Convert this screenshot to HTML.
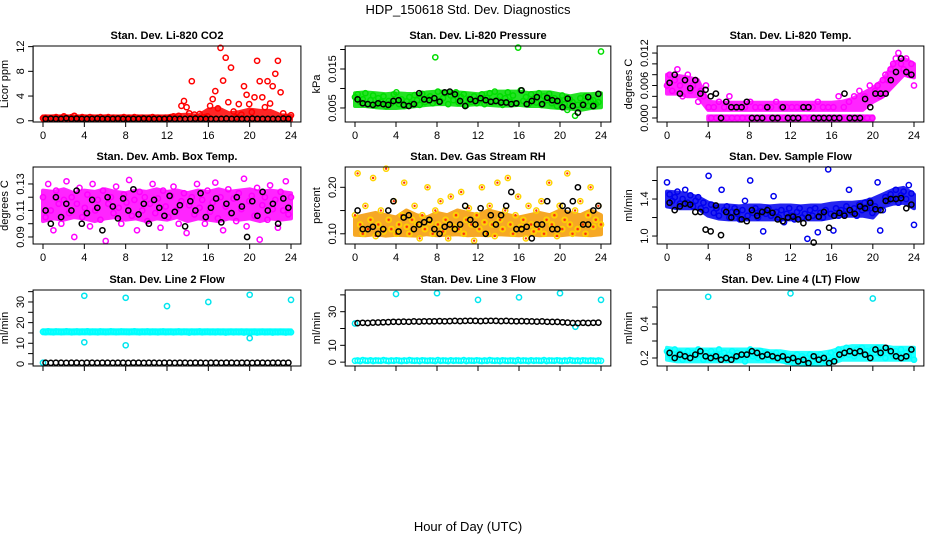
<!DOCTYPE html>
<html><head><meta charset="utf-8"><style>
html,body{margin:0;padding:0;background:#fff}
svg{display:block;font-family:"Liberation Sans",sans-serif}
</style></head><body>
<svg id="chart" width="936" height="540" viewBox="0 0 936 540" xmlns="http://www.w3.org/2000/svg">
<rect width="936" height="540" fill="#fff"/>
<text x="468" y="14" text-anchor="middle" font-size="13">HDP_150618  Std. Dev. Diagnostics</text>
<text x="468" y="531" text-anchor="middle" font-size="13">Hour of Day (UTC)</text>
</svg>
<script>
// ---- data ----
const xTicks = [0,4,8,12,16,20,24];
const co2Values = [0.4,0.5,0.3,0.4,0.5,0.6,0.4,0.5,0.7,0.5,0.4,0.6,0.8,0.5,0.4,0.6,0.5,0.4,0.6,0.5,0.4,0.5,0.6,0.4,0.5,0.6,0.4,0.5,0.3,0.4,0.5,0.6,0.4,0.5,0.4,0.6,0.5,0.4,0.5,0.3,0.4,0.5,0.6,0.4,0.5,0.4,0.3,0.5,0.4,0.6,0.7,0.5,0.8,2.4,3.2,2.2,1.2,6.4,1.0,0.6,1.1,0.5,0.6,0.7,2.4,3.5,4.8,2.0,11.8,6.5,10.2,3.0,8.6,1.5,0.6,2.7,1.0,5.6,4.2,2.7,1.4,3.8,9.7,6.4,3.8,2.2,6.4,2.8,5.6,7.6,9.7,4.6,1.2,0.6,0.5,0.9];
const co2BandLo = [0.1,0.1,0.1,0.1,0.1,0.1,0.1,0.1,0.1,0.1,0.1,0.1,0.1,0.1,0.1,0.1,0.1,0.1,0.1,0.1,0.1,0.1,0.1,0.1,0.1];
const co2BandHi = [0.7,0.7,0.7,0.7,0.7,0.7,0.7,0.7,0.7,0.7,0.7,0.7,0.7,0.9,1.0,0.8,1.8,2.0,1.2,1.4,1.8,1.6,1.6,0.9,0.8];
const co2Black = [0.3,0.35,0.3,0.3,0.4,0.3,0.35,0.3,0.3,0.3,0.35,0.3,0.3,0.3,0.35,0.3,0.3,0.3,0.3,0.35,0.3,0.3,0.3,0.3,0.35,0.3,0.3,0.3,0.3,0.35,0.3,0.3,0.3,0.3,0.3,0.35,0.3,0.3,0.3,0.3,0.35,0.3,0.3,0.3,0.3,0.3,0.35,0.3];
const pressValues = [0.0078,0.0085,0.0065,0.0072,0.0088,0.0060,0.0070,0.0082,0.0058,0.0075,0.0066,0.0080,0.0055,0.0068,0.0062,0.0085,0.0090,0.0060,0.0072,0.0055,0.0067,0.0078,0.0061,0.0083,0.0070,0.0058,0.0086,0.0065,0.0074,0.0080,0.0062,0.0180,0.0092,0.0068,0.0075,0.0088,0.0060,0.0082,0.0070,0.0090,0.0064,0.0078,0.0085,0.0057,0.0073,0.0066,0.0080,0.0062,0.0070,0.0085,0.0060,0.0076,0.0088,0.0065,0.0092,0.0070,0.0080,0.0058,0.0075,0.0090,0.0066,0.0082,0.0062,0.0205,0.0095,0.0068,0.0078,0.0060,0.0085,0.0072,0.0064,0.0088,0.0058,0.0080,0.0070,0.0086,0.0062,0.0075,0.0055,0.0068,0.0082,0.0060,0.0045,0.0072,0.0065,0.0030,0.0058,0.0075,0.0062,0.0080,0.0055,0.0068,0.0070,0.0060,0.0065,0.0195];
const pressBandLo = [0.0055,0.0055,0.0052,0.0050,0.0050,0.0052,0.0055,0.0058,0.0060,0.0060,0.0058,0.0058,0.0060,0.0058,0.0056,0.0056,0.0058,0.0055,0.0055,0.0052,0.0050,0.0048,0.0045,0.0050,0.0052];
const pressBandHi = [0.0088,0.0090,0.0088,0.0085,0.0088,0.0086,0.0085,0.0090,0.0092,0.0092,0.0090,0.0088,0.0085,0.0090,0.0092,0.0092,0.0092,0.0088,0.0090,0.0090,0.0085,0.0080,0.0085,0.0085,0.0088];
const pressBlack = [0.0072,0.0062,0.0060,0.0058,0.0062,0.0060,0.0058,0.0068,0.0070,0.0058,0.0055,0.0060,0.0088,0.0072,0.0070,0.0075,0.0066,0.0090,0.0092,0.0085,0.0068,0.0055,0.0072,0.0068,0.0075,0.0070,0.0066,0.0068,0.0064,0.0064,0.0060,0.0062,0.0095,0.0060,0.0068,0.0078,0.0060,0.0076,0.0070,0.0068,0.0052,0.0074,0.0055,0.0038,0.0058,0.0078,0.0055,0.0086];
const tempValues = [0.006,0.008,0.005,0.007,0.009,0.006,0.004,0.007,0.008,0.005,0.006,0.007,0.003,0.005,0.004,0.006,0.002,0,0.002,0,0.003,0,0.002,0,0.004,0,0.002,0,0.002,0,0.002,0,0.003,0,0.002,0,0.002,0,0.002,0,0.002,0,0.003,0,0.002,0,0.002,0,0.002,0,0.002,0,0.002,0,0.002,0,0.002,0,0.003,0,0.002,0,0.002,0,0.002,0,0.004,0,0.002,0,0.003,0,0.004,0,0.005,0,0.004,0,0.006,0,0.005,0.006,0.004,0.007,0.008,0.007,0.009,0.010,0.011,0.012,0.010,0.009,0.011,0.008,0.010,0.006];
const tempBandLo = [0.0045,0.0045,0.0040,0.0040,0.0015,0.0015,0.0015,0.0015,0.0015,0.0015,0.0015,0.0015,0.0015,0.0015,0.0015,0.0015,0.0015,0.0015,0.0015,0.0015,0.0030,0.0040,0.0060,0.0080,0.0075];
const tempBandHi = [0.0080,0.0078,0.0075,0.0070,0.0030,0.0028,0.0028,0.0028,0.0028,0.0028,0.0028,0.0028,0.0028,0.0028,0.0028,0.0028,0.0028,0.0030,0.0035,0.0045,0.0055,0.0070,0.0100,0.0110,0.0100];
const tempZeroHours = [4,20];
const tempZeroLo = [-0.0003,-0.0003];
const tempZeroHi = [0.0003,0.0003];
const tempBlack = [0.0065,0.008,0.0045,0.007,0.0055,0.007,0.0045,0.0052,0.004,0.0045,0,0.003,0.002,0.002,0.002,0.003,0,0,0,0.002,0,0,0.002,0,0,0,0.002,0.002,0,0,0,0,0,0,0.0045,0,0,0,0.0035,0.002,0.0045,0.0045,0.0045,0.007,0.0085,0.011,0.0085,0.008];
const ambValues = [0.12,0.105,0.13,0.11,0.095,0.125,0.115,0.10,0.118,0.132,0.108,0.12,0.09,0.115,0.127,0.105,0.112,0.122,0.098,0.13,0.11,0.118,0.103,0.125,0.087,0.115,0.12,0.108,0.128,0.112,0.1,0.122,0.116,0.133,0.106,0.118,0.095,0.124,0.11,0.12,0.102,0.115,0.13,0.108,0.119,0.097,0.125,0.113,0.105,0.121,0.128,0.11,0.1,0.117,0.123,0.093,0.114,0.12,0.107,0.13,0.112,0.118,0.1,0.125,0.109,0.116,0.131,0.104,0.12,0.095,0.113,0.126,0.108,0.119,0.102,0.123,0.111,0.134,0.098,0.117,0.121,0.106,0.127,0.088,0.114,0.12,0.103,0.129,0.111,0.118,0.097,0.124,0.11,0.132,0.107,0.12];
const ambBandLo = [0.102,0.104,0.103,0.105,0.104,0.102,0.104,0.105,0.103,0.104,0.102,0.104,0.103,0.105,0.102,0.104,0.103,0.102,0.104,0.103,0.104,0.102,0.104,0.103,0.104];
const ambBandHi = [0.125,0.124,0.126,0.123,0.125,0.124,0.126,0.124,0.123,0.125,0.124,0.126,0.124,0.125,0.123,0.125,0.124,0.126,0.124,0.125,0.126,0.124,0.125,0.124,0.123];
const ambBlack = [0.11,0.10,0.12,0.105,0.115,0.11,0.125,0.10,0.108,0.118,0.112,0.095,0.12,0.113,0.104,0.119,0.11,0.126,0.107,0.115,0.1,0.118,0.112,0.106,0.121,0.109,0.114,0.098,0.117,0.11,0.123,0.105,0.112,0.119,0.101,0.115,0.108,0.12,0.113,0.09,0.117,0.106,0.124,0.11,0.115,0.1,0.119,0.112];
const rhValues = [0.14,0.23,0.12,0.1,0.16,0.11,0.13,0.22,0.095,0.12,0.15,0.105,0.24,0.13,0.11,0.17,0.1,0.12,0.14,0.21,0.115,0.1,0.13,0.16,0.12,0.09,0.14,0.11,0.2,0.125,0.1,0.15,0.12,0.17,0.105,0.13,0.09,0.18,0.115,0.14,0.11,0.19,0.1,0.13,0.155,0.12,0.085,0.14,0.11,0.2,0.125,0.1,0.16,0.12,0.095,0.21,0.13,0.11,0.15,0.22,0.12,0.1,0.14,0.18,0.115,0.13,0.09,0.16,0.12,0.105,0.15,0.11,0.17,0.1,0.13,0.21,0.12,0.14,0.095,0.16,0.11,0.13,0.23,0.12,0.1,0.15,0.11,0.17,0.12,0.1,0.14,0.2,0.115,0.13,0.16,0.12];
const rhBandLo = [0.098,0.097,0.099,0.096,0.098,0.097,0.096,0.099,0.097,0.098,0.099,0.097,0.098,0.097,0.099,0.098,0.097,0.099,0.097,0.098,0.097,0.099,0.098,0.097,0.099];
const rhBandHi = [0.135,0.14,0.145,0.14,0.135,0.15,0.14,0.135,0.145,0.14,0.15,0.145,0.14,0.15,0.145,0.14,0.135,0.14,0.145,0.14,0.15,0.145,0.14,0.15,0.14];
const rhBlack = [0.15,0.11,0.11,0.115,0.10,0.11,0.15,0.17,0.105,0.135,0.14,0.11,0.12,0.125,0.13,0.11,0.10,0.115,0.12,0.11,0.12,0.16,0.13,0.12,0.155,0.10,0.14,0.12,0.14,0.16,0.19,0.11,0.11,0.115,0.09,0.12,0.12,0.17,0.11,0.11,0.16,0.15,0.17,0.2,0.12,0.12,0.15,0.16];
const flowValues = [1.58,1.45,1.38,1.42,1.48,1.35,1.4,1.5,1.36,1.44,1.32,1.38,1.42,1.3,1.36,1.28,1.65,1.34,1.25,1.3,1.22,1.5,1.28,1.32,1.2,1.26,1.3,1.24,1.18,1.28,1.38,1.22,1.6,1.25,1.3,1.2,1.27,1.05,1.24,1.3,1.22,1.43,1.26,1.2,1.28,1.15,1.24,1.3,1.22,1.18,1.26,1.3,1.2,1.24,0.97,1.28,1.22,1.3,1.04,1.25,1.2,1.28,1.72,1.24,1.06,1.3,1.22,1.28,1.24,1.32,1.5,1.26,1.3,1.22,1.34,1.28,1.36,1.3,1.38,1.25,1.32,1.58,1.06,1.28,1.42,1.38,1.45,1.4,1.5,1.36,1.44,1.48,1.4,1.55,1.46,1.12];
const flowBandLo = [1.32,1.30,1.30,1.30,1.22,1.19,1.18,1.18,1.18,1.18,1.18,1.18,1.18,1.18,1.18,1.18,1.20,1.22,1.22,1.22,1.20,1.32,1.35,1.36,1.30];
const flowBandHi = [1.48,1.47,1.45,1.42,1.36,1.33,1.33,1.32,1.33,1.33,1.32,1.33,1.33,1.32,1.33,1.33,1.35,1.36,1.36,1.37,1.40,1.45,1.50,1.52,1.45];
const flowBlack = [1.36,1.28,1.32,1.35,1.34,1.26,1.26,1.07,1.05,1.33,1.01,1.26,1.2,1.26,1.18,1.16,1.28,1.22,1.26,1.28,1.25,1.18,1.16,1.2,1.21,1.18,1.14,1.2,0.93,1.21,1.26,1.09,1.22,1.25,1.22,1.28,1.24,1.32,1.3,1.36,1.29,1.28,1.38,1.4,1.4,1.41,1.3,1.34];
const line2Values = [15.6,15.4,15.8,15.5,15.3,15.7,15.6,15.4,15.5,15.8,15.6,15.3,15.5,15.7,15.4,15.6,15.5,15.8,15.4,15.6,15.5,15.3,15.7,15.6,15.4,15.5,15.8,15.6,15.4,15.5,15.7,15.6,15.5,15.4,15.6,15.8,15.5,15.3,15.6,15.5,15.7,15.4,15.6,15.5,15.3,15.6,15.7,15.4,15.5,15.6,15.3,15.5,15.7,15.4,15.6,15.5,15.2,15.6,15.4,15.5,15.7,15.3,15.5,15.6,15.4,15.5,15.3,15.6,15.4,15.5,15.2,15.4,15.6,15.3,15.5,15.4,15.6,15.2,15.5,15.3,15.4,15.5,15.2,15.4,15.6,15.3,15.4,15.5,15.2,15.4,15.3,15.5,15.4,15.2,15.4,15.3];
const line2BandLo = [14.8,14.8,14.8,14.8,14.8,14.8,14.8,14.8,14.8,14.8,14.8,14.8,14.8,14.8,14.8,14.8,14.8,14.8,14.8,14.8,14.8,14.8,14.8,14.8,14.8];
const line2BandHi = [16.3,16.3,16.3,16.3,16.3,16.3,16.3,16.3,16.3,16.3,16.3,16.3,16.3,16.3,16.3,16.3,16.3,16.3,16.3,16.3,16.3,16.3,16.3,16.3,16.3];
const line2OutHours = [4,4,8,8,12,16,20,20,24,0];
const line2OutValues = [33,10.5,32,9,28,30,33.5,12.5,31,0.6];
const line2Black = [0.6,0.5,0.6,0.6,0.5,0.6,0.6,0.5,0.6,0.6,0.5,0.6,0.6,0.5,0.6,0.6,0.5,0.6,0.6,0.5,0.6,0.6,0.5,0.6,0.6,0.5,0.6,0.6,0.5,0.6,0.6,0.5,0.6,0.6,0.5,0.6,0.6,0.5,0.6,0.6,0.5,0.6,0.6,0.5,0.6,0.6,0.5,0.6];
const line3Values = [0.8,1.0,0.7,1.2,0.9,0.8,1.1,0.7,1.0,0.9,0.8,1.2,0.9,0.7,1.0,0.8,1.1,0.9,0.7,1.0,0.8,1.2,0.9,0.8,1.0,0.7,1.1,0.9,0.8,1.0,0.9,0.7,1.2,0.8,1.0,0.9,0.7,1.1,0.8,1.0,0.9,0.8,1.2,0.7,1.0,0.9,0.8,1.1,0.9,0.7,1.0,0.8,1.2,0.9,0.8,1.0,0.7,1.1,0.9,0.8,1.0,0.9,0.7,1.2,0.8,1.0,0.9,0.7,1.1,0.8,1.0,0.9,0.8,1.2,0.7,1.0,0.9,0.8,1.1,0.9,0.7,1.0,0.8,1.2,0.9,0.8,1.0,0.7,1.1,0.9,0.8,1.0,0.9,0.7,1.0,0.8];
const line3OutHours = [4,8,12,16,20,24,0,21.5];
const line3OutValues = [40.5,41,37,38.5,41,37,23,21];
const line3Black = [23.2,23.4,23.3,23.5,23.6,23.7,23.8,24.0,23.9,24.1,24.0,24.2,24.1,24.3,24.2,24.3,24.4,24.3,24.4,24.5,24.4,24.5,24.6,24.5,24.4,24.5,24.6,24.5,24.4,24.5,24.4,24.3,24.4,24.3,24.2,24.1,24.2,24.0,23.9,23.9,23.7,23.5,23.3,23.2,23.4,23.3,23.4,23.5];
const line4Values = [0.24,0.22,0.2,0.25,0.21,0.23,0.19,0.22,0.24,0.2,0.23,0.21,0.25,0.22,0.19,0.23,0.21,0.24,0.2,0.22,0.25,0.21,0.23,0.19,0.22,0.24,0.2,0.23,0.21,0.22,0.18,0.23,0.25,0.21,0.22,0.2,0.24,0.21,0.23,0.19,0.22,0.2,0.23,0.21,0.19,0.22,0.18,0.21,0.2,0.17,0.22,0.19,0.21,0.18,0.2,0.22,0.18,0.21,0.19,0.22,0.2,0.18,0.21,0.23,0.19,0.22,0.25,0.21,0.23,0.26,0.22,0.24,0.21,0.25,0.23,0.26,0.22,0.24,0.21,0.25,0.23,0.26,0.22,0.24,0.2,0.25,0.23,0.21,0.24,0.22,0.25,0.2,0.23,0.21,0.24,0.19];
const line4BandLo = [0.19,0.18,0.18,0.18,0.18,0.18,0.18,0.18,0.18,0.18,0.18,0.18,0.17,0.16,0.16,0.16,0.17,0.19,0.19,0.19,0.19,0.19,0.19,0.19,0.19];
const line4BandHi = [0.26,0.25,0.25,0.25,0.25,0.25,0.25,0.25,0.25,0.25,0.24,0.24,0.23,0.23,0.23,0.23,0.24,0.26,0.27,0.27,0.27,0.27,0.26,0.26,0.26];
const line4OutHours = [4,12,20];
const line4OutValues = [0.56,0.58,0.55];
const line4Black = [0.23,0.2,0.22,0.21,0.2,0.22,0.24,0.21,0.2,0.21,0.19,0.2,0.19,0.21,0.22,0.22,0.24,0.23,0.21,0.22,0.21,0.2,0.21,0.19,0.2,0.18,0.19,0.17,0.21,0.19,0.2,0.17,0.18,0.22,0.23,0.24,0.23,0.24,0.22,0.2,0.25,0.23,0.26,0.24,0.21,0.2,0.21,0.25];

// ---- layout ----
const NS = 'http://www.w3.org/2000/svg';
const svg = document.getElementById('chart');
function mk(tag, attrs, parent){ const e=document.createElementNS(NS,tag); for(const k in attrs) e.setAttribute(k,attrs[k]); (parent||svg).appendChild(e); return e; }

const cols = [[43,291],[355,601],[667,914]];
const rows = [[46,122],[167,244],[290,366]];

const panels = [
 {name:'co2',title:'Stan. Dev. Li-820 CO2',ylab:'Licor ppm',c:0,r:0,yd:[-0.2,12.1],ticks:[0,4,8,12],labels:[0,4,8,12],fmt:v=>String(v),
  bands:[{lo:co2BandLo,hi:co2BandHi,col:'#ff0000'}],
  series:[{v:co2Values,col:'#ff0000'},{v:co2Black,col:'#000',black:true}]},
 {name:'pressure',title:'Stan. Dev. Li-820 Pressure',ylab:'kPa',c:1,r:0,yd:[0.0014,0.0209],ticks:[0.005,0.010,0.015,0.020],labels:[0.005,0.015],fmt:v=>v.toFixed(3),
  bands:[{lo:pressBandLo,hi:pressBandHi,col:'#00dd00'}],
  series:[{v:pressValues,col:'#00dd00'},{v:pressBlack,col:'#000',black:true}]},
 {name:'temp',title:'Stan. Dev. Li-820 Temp.',ylab:'degrees C',c:2,r:0,yd:[-0.00074,0.0133],ticks:[0,0.002,0.004,0.006,0.008,0.010,0.012],labels:[0,0.006,0.012],fmt:v=>v.toFixed(3),
  bands:[{lo:tempBandLo,hi:tempBandHi,col:'#ff00ff'},{lo:tempZeroLo,hi:tempZeroHi,h:tempZeroHours,col:'#ff00ff'}],
  series:[{v:tempValues,col:'#ff00ff'},{v:tempBlack,col:'#000',black:true}]},
 {name:'amb-box',title:'Stan. Dev. Amb. Box Temp.',ylab:'degrees C',c:0,r:1,yd:[0.0847,0.1428],ticks:[0.09,0.10,0.11,0.12,0.13],labels:[0.09,0.11,0.13],fmt:v=>v.toFixed(2),
  bands:[{lo:ambBandLo,hi:ambBandHi,col:'#ff00ff'}],
  series:[{v:ambValues,col:'#ff00ff'},{v:ambBlack,col:'#000',black:true}]},
 {name:'rh',title:'Stan. Dev. Gas Stream RH',ylab:'percent',c:1,r:1,yd:[0.078,0.2437],ticks:[0.10,0.15,0.20],labels:[0.10,0.20],fmt:v=>v.toFixed(2),
  bands:[{lo:rhBandLo,hi:rhBandHi,col:'#f59a00'}],
  series:[{v:rhValues,col:'#ffd400',dot:'#ff3300'},{v:rhBlack,col:'#000',black:true}]},
 {name:'sample-flow',title:'Stan. Dev. Sample Flow',ylab:'ml/min',c:2,r:1,yd:[0.914,1.746],ticks:[1.0,1.2,1.4,1.6],labels:[1.0,1.4],fmt:v=>v.toFixed(1),
  bands:[{lo:flowBandLo,hi:flowBandHi,col:'#0000ee'}],
  series:[{v:flowValues,col:'#0000ee'},{v:flowBlack,col:'#000',black:true}]},
 {name:'line2',title:'Stan. Dev. Line 2 Flow',ylab:'ml/min',c:0,r:2,yd:[-1,35.8],ticks:[0,5,10,15,20,25,30,35],labels:[0,10,20,30],fmt:v=>String(v),noX:true,
  bands:[{lo:line2BandLo,hi:line2BandHi,col:'#00ffff'}],
  series:[{v:line2Values,col:'#00ffff'},{v:line2OutValues,h:line2OutHours,col:'#00e5ee'},{v:line2Black,col:'#000',black:true}]},
 {name:'line3',title:'Stan. Dev. Line 3 Flow',ylab:'ml/min',c:1,r:2,yd:[-2.3,42.9],ticks:[0,10,20,30,40],labels:[0,10,30],fmt:v=>String(v),noX:true,
  bands:[],
  series:[{v:line3Values,col:'#00ffff'},{v:line3OutValues,h:line3OutHours,col:'#00e5ee'},{v:line3Black,col:'#000',black:true}]},
 {name:'line4',title:'Stan. Dev. Line 4 (LT) Flow',ylab:'ml/min',c:2,r:2,yd:[0.153,0.6],ticks:[0.2,0.3,0.4,0.5],labels:[0.2,0.4],fmt:v=>v.toFixed(1),noX:true,
  bands:[{lo:line4BandLo,hi:line4BandHi,col:'#00ffff'}],
  series:[{v:line4Values,col:'#00ffff'},{v:line4OutValues,h:line4OutHours,col:'#00e5ee'},{v:line4Black,col:'#000',black:true}]}
];

panels.forEach(p=>{
  const [x0,x24] = cols[p.c];
  const [top,bot] = rows[p.r];
  const pad = 0.04*(x24-x0);
  const left = x0-pad, right = x24+pad;
  const xs = h => x0 + h*(x24-x0)/24;
  const ys = v => bot - (v-p.yd[0])/(p.yd[1]-p.yd[0])*(bot-top);
  const g = mk('g',{});
  
  
  const t = mk('text',{x:(left+right)/2,y:top-7,'text-anchor':'middle','font-size':'11','font-weight':'bold'},g);
  t.textContent = p.title;
  
  
  p.bands.forEach(bd=>{
    const n = bd.lo.length;
    const hs = bd.h ? bd.h : bd.lo.map((_,i)=>i*24/(n-1));
    let pts = hs.map((h,i)=>xs(h).toFixed(1)+','+ys(bd.hi[i]).toFixed(1));
    for(let i=n-1;i>=0;i--) pts.push(xs(hs[i]).toFixed(1)+','+ys(bd.lo[i]).toFixed(1));
    const pg = mk('polygon',{points:pts.join(' '),fill:bd.col,stroke:bd.col,'stroke-width':4,'stroke-linejoin':'round',opacity:0.85},g);
    
    
  });
  p.series.forEach((s,si)=>{
    const sg = mk('g',{fill:'none',stroke:s.col,'stroke-width':1.5},g);
    
    
    const n = s.v.length;
    s.v.forEach((v,i)=>{
      const h = s.h ? s.h[i] : (s.black ? (i+0.5)*24/n : i*24/(n-1));
      const cx = xs(h), cy = ys(v);
      const c = mk('circle',{cx:cx.toFixed(1),cy:cy.toFixed(1),r:2.6},sg);
      
      
      if(s.dot){ const d = mk('circle',{cx:cx.toFixed(1),cy:cy.toFixed(1),r:1.2,fill:s.dot,stroke:'none'},sg);
        
         }
    });
  });
  const b = mk('rect',{x:left,y:top,width:right-left,height:bot-top,fill:'none',stroke:'#000','stroke-width':1},g);
  
  
  const xa = mk('g',{stroke:'#000','stroke-width':1},g);
  
  
  mk('line',{x1:xs(0),x2:xs(24),y1:bot,y2:bot},xa);
  xTicks.forEach(tk=>{
    mk('line',{x1:xs(tk),x2:xs(tk),y1:bot,y2:bot+5},xa);
    if(!p.noX){ const l = mk('text',{x:xs(tk),y:bot+17,'text-anchor':'middle','font-size':'11',stroke:'none',fill:'#000'},xa);
      l.textContent = tk;
      
       }
  });
  const ya = mk('g',{stroke:'#000','stroke-width':1},g);
  
  
  mk('line',{x1:left,x2:left,y1:ys(p.ticks[0]),y2:ys(p.ticks[p.ticks.length-1])},ya);
  p.ticks.forEach(tk=>{ mk('line',{x1:left-5,x2:left,y1:ys(tk),y2:ys(tk)},ya); });
  p.labels.forEach(tk=>{
    const yy = ys(tk), xx = left-9;
    const l = mk('text',{x:xx,y:yy,'text-anchor':'middle','font-size':'11',stroke:'none',fill:'#000',transform:`rotate(-90 ${xx} ${yy})`},ya);
    l.textContent = p.fmt(tk);
    
    
  });
  const yl = mk('text',{x:left-25,y:(top+bot)/2,'text-anchor':'middle','font-size':'11',transform:`rotate(-90 ${left-25} ${(top+bot)/2})`},g);
  yl.textContent = p.ylab;
  
  
});
</script>
</body></html>
